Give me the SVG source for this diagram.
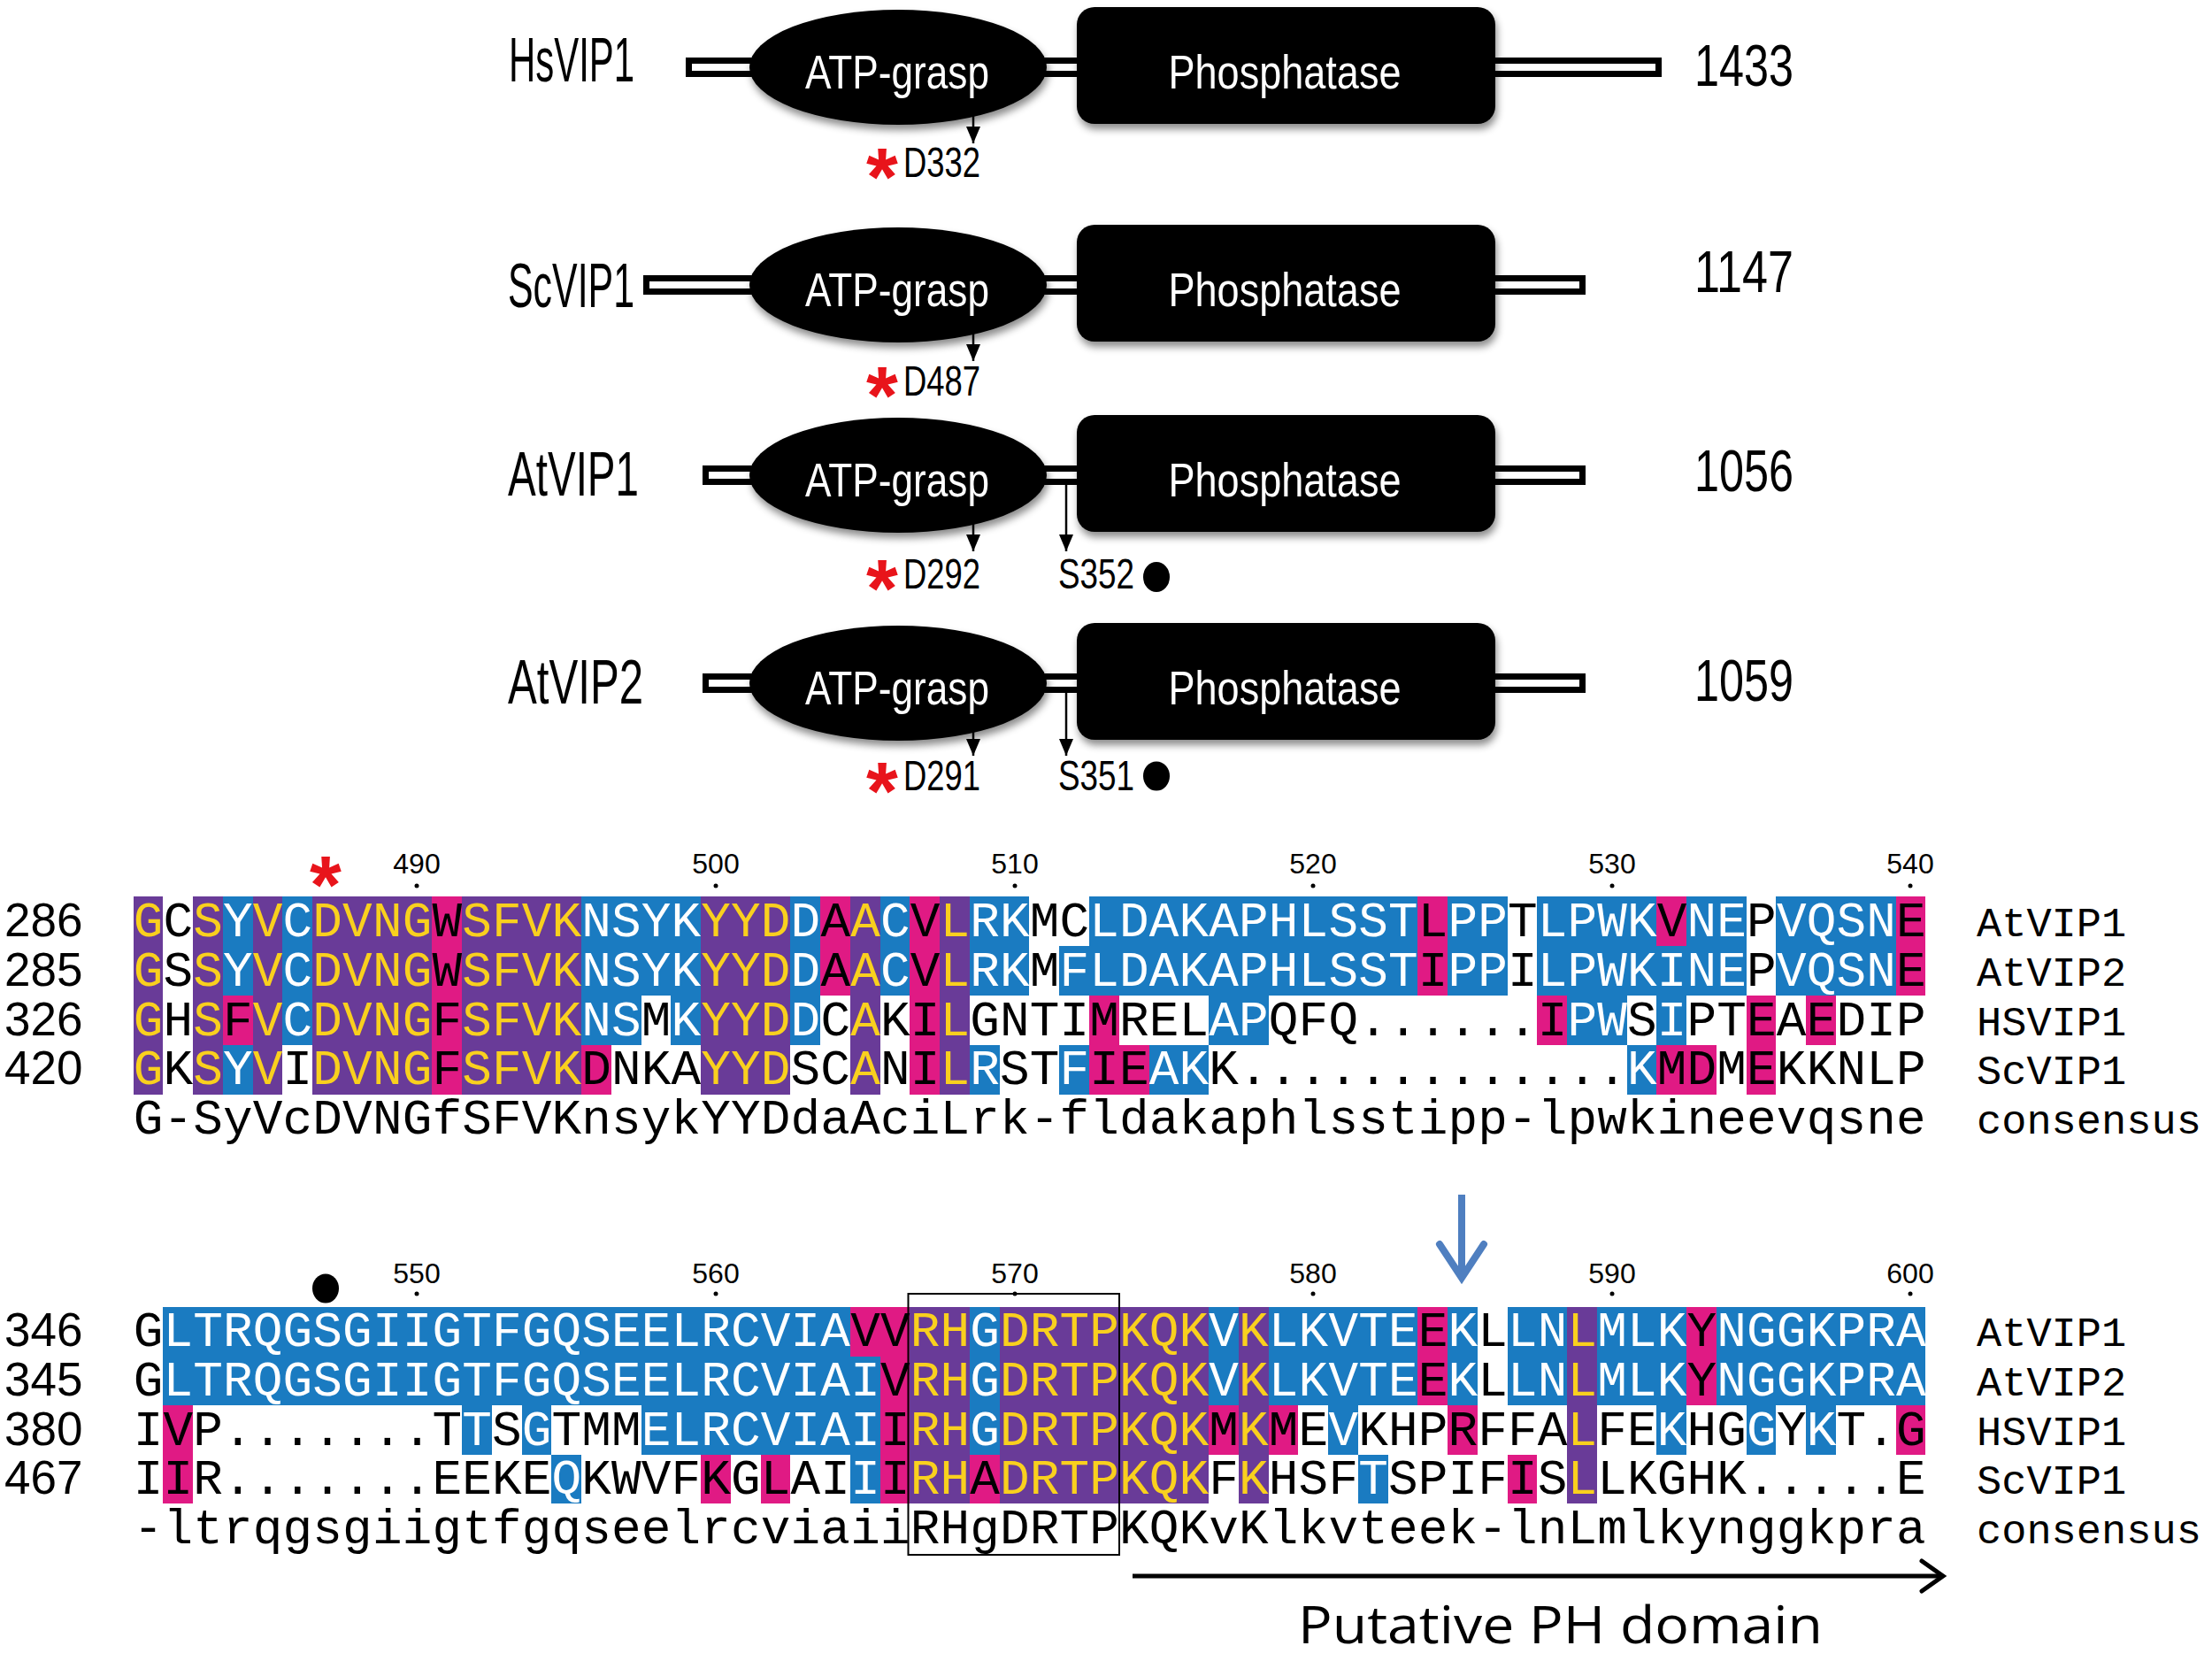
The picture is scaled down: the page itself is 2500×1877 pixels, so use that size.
<svg xmlns="http://www.w3.org/2000/svg" width="2500" height="1877" viewBox="0 0 2500 1877">
<defs>
<style>
.seq{font-family:"Liberation Mono","Courier New",monospace;font-size:56px;fill:#000;letter-spacing:0.16px}
.y{fill:#F9D01E}.w{fill:#fff}
.num{font-family:"Liberation Sans",Arial,sans-serif;font-size:53px;fill:#000}
.sp{font-family:"Liberation Mono","Courier New",monospace;font-size:47px;fill:#000}
.rul{font-family:"Liberation Sans",Arial,sans-serif;font-size:32px;text-anchor:middle;fill:#000}
.P{fill:#693B98}.B{fill:#1A7BC1}.M{fill:#E01A84}
.cond{font-family:"Liberation Sans Narrow","Liberation Sans",Arial,sans-serif}
.lab{font-size:70px;fill:#000}
.len{font-size:66px;fill:#000}
.dom{font-size:54px;fill:#fff;text-anchor:middle}
.site{font-size:49px;fill:#000}
.ast{font-family:"Liberation Sans",Arial,sans-serif;font-weight:bold;font-size:92px;fill:#E8141B;text-anchor:middle}
.bo{fill:#000}.bi{fill:#fff}
.shape{fill:#000;filter:url(#sh)}
.ptr{stroke:#000;stroke-width:2.5;fill:none;marker-end:url(#ah)}
</style>
<marker id="ah" viewBox="0 0 19 16" refX="19" refY="8" markerWidth="19" markerHeight="16" markerUnits="userSpaceOnUse" orient="auto">
<path d="M0,0 L19,8 L0,16 z" fill="#000"/>
</marker>
<filter id="sh" x="-10%" y="-10%" width="125%" height="140%">
<feDropShadow dx="2" dy="6" stdDeviation="4" flood-color="#000" flood-opacity="0.45"/>
</filter>
</defs>
<rect width="2500" height="1877" fill="#fff"/>

<!-- ===== Domain diagrams ===== -->
<g id="HsVIP1">
<rect class="bo" x="775" y="65" width="1103" height="22"/>
<rect class="bi" x="782" y="72" width="1089" height="8"/>
<ellipse class="shape" cx="1015" cy="76" rx="168" ry="65"/>
<rect class="shape" x="1217" y="8" width="473" height="132" rx="20"/>
<text class="cond dom" x="1014" y="100" textLength="208" lengthAdjust="spacingAndGlyphs">ATP-grasp</text>
<text class="cond dom" x="1452" y="100" textLength="263" lengthAdjust="spacingAndGlyphs">Phosphatase</text>
<text class="cond lab" x="575" y="92" textLength="142" lengthAdjust="spacingAndGlyphs">HsVIP1</text>
<text class="cond len" x="1915" y="97" textLength="112" lengthAdjust="spacingAndGlyphs">1433</text>
<path class="ptr" d="M1100,131 V162"/>
<text class="ast" x="997" y="232">*</text>
<text class="cond site" x="1021" y="200" textLength="87" lengthAdjust="spacingAndGlyphs">D332</text>
</g>

<g id="ScVIP1">
<rect class="bo" x="727" y="311" width="1065" height="22"/>
<rect class="bi" x="734" y="318" width="1051" height="8"/>
<ellipse class="shape" cx="1015" cy="322" rx="168" ry="65"/>
<rect class="shape" x="1217" y="254" width="473" height="132" rx="20"/>
<text class="cond dom" x="1014" y="346" textLength="208" lengthAdjust="spacingAndGlyphs">ATP-grasp</text>
<text class="cond dom" x="1452" y="346" textLength="263" lengthAdjust="spacingAndGlyphs">Phosphatase</text>
<text class="cond lab" x="574" y="347" textLength="143" lengthAdjust="spacingAndGlyphs">ScVIP1</text>
<text class="cond len" x="1915" y="330" textLength="112" lengthAdjust="spacingAndGlyphs">1147</text>
<path class="ptr" d="M1100,377 V408"/>
<text class="ast" x="997" y="479">*</text>
<text class="cond site" x="1021" y="447" textLength="87" lengthAdjust="spacingAndGlyphs">D487</text>
</g>

<g id="AtVIP1">
<rect class="bo" x="794" y="526" width="998" height="22"/>
<rect class="bi" x="801" y="533" width="984" height="8"/>
<ellipse class="shape" cx="1015" cy="537" rx="168" ry="65"/>
<rect class="shape" x="1217" y="469" width="473" height="132" rx="20"/>
<text class="cond dom" x="1014" y="561" textLength="208" lengthAdjust="spacingAndGlyphs">ATP-grasp</text>
<text class="cond dom" x="1452" y="561" textLength="263" lengthAdjust="spacingAndGlyphs">Phosphatase</text>
<text class="cond lab" x="574" y="560" textLength="148" lengthAdjust="spacingAndGlyphs">AtVIP1</text>
<text class="cond len" x="1915" y="555" textLength="112" lengthAdjust="spacingAndGlyphs">1056</text>
<path class="ptr" d="M1100,592 V623"/>
<path class="ptr" d="M1205,541 V623"/>
<text class="ast" x="997" y="697">*</text>
<text class="cond site" x="1021" y="665" textLength="87" lengthAdjust="spacingAndGlyphs">D292</text>
<text class="cond site" x="1196" y="665" textLength="86" lengthAdjust="spacingAndGlyphs">S352</text>
<ellipse cx="1307" cy="652" rx="15" ry="17" fill="#000"/>
</g>

<g id="AtVIP2">
<rect class="bo" x="794" y="761" width="998" height="22"/>
<rect class="bi" x="801" y="768" width="984" height="8"/>
<ellipse class="shape" cx="1015" cy="772" rx="168" ry="65"/>
<rect class="shape" x="1217" y="704" width="473" height="132" rx="20"/>
<text class="cond dom" x="1014" y="796" textLength="208" lengthAdjust="spacingAndGlyphs">ATP-grasp</text>
<text class="cond dom" x="1452" y="796" textLength="263" lengthAdjust="spacingAndGlyphs">Phosphatase</text>
<text class="cond lab" x="574" y="795" textLength="153" lengthAdjust="spacingAndGlyphs">AtVIP2</text>
<text class="cond len" x="1915" y="792" textLength="112" lengthAdjust="spacingAndGlyphs">1059</text>
<path class="ptr" d="M1100,827 V854"/>
<path class="ptr" d="M1205,776 V854"/>
<text class="ast" x="997" y="926">*</text>
<text class="cond site" x="1021" y="893" textLength="87" lengthAdjust="spacingAndGlyphs">D291</text>
<text class="cond site" x="1196" y="893" textLength="86" lengthAdjust="spacingAndGlyphs">S351</text>
<ellipse cx="1307" cy="877" rx="15" ry="16.5" fill="#000"/>
</g>

<!-- ===== Alignment block 1 ===== -->
<g id="block1">
<g transform="translate(150.7 1013.3) scale(33.76 55.85)" shape-rendering="crispEdges">
<g class="P">
<rect x="0" y="0" width="1" height="4"/><rect x="2" y="0" width="1" height="4"/><rect x="4" y="0" width="1" height="4"/>
<rect x="6" y="0" width="4" height="4"/><rect x="11" y="0" width="4" height="4"/><rect x="19" y="0" width="3" height="4"/>
<rect x="24" y="0" width="1" height="4"/><rect x="27" y="0" width="1" height="4"/>
</g>
<g class="B">
<rect x="3" y="0" width="1" height="1"/><rect x="5" y="0" width="1" height="1"/><rect x="15" y="0" width="4" height="1"/><rect x="22" y="0" width="1" height="1"/><rect x="25" y="0" width="1" height="1"/><rect x="28" y="0" width="2" height="1"/><rect x="32" y="0" width="11" height="1"/><rect x="44" y="0" width="2" height="1"/><rect x="47" y="0" width="4" height="1"/><rect x="52" y="0" width="2" height="1"/><rect x="55" y="0" width="4" height="1"/>
<rect x="3" y="1" width="1" height="1"/><rect x="5" y="1" width="1" height="1"/><rect x="15" y="1" width="4" height="1"/><rect x="22" y="1" width="1" height="1"/><rect x="25" y="1" width="1" height="1"/><rect x="28" y="1" width="2" height="1"/><rect x="31" y="1" width="12" height="1"/><rect x="44" y="1" width="2" height="1"/><rect x="47" y="1" width="7" height="1"/><rect x="55" y="1" width="4" height="1"/>
<rect x="5" y="2" width="1" height="1"/><rect x="15" y="2" width="2" height="1"/><rect x="18" y="2" width="1" height="1"/><rect x="22" y="2" width="1" height="1"/><rect x="36" y="2" width="2" height="1"/><rect x="48" y="2" width="2" height="1"/><rect x="51" y="2" width="1" height="1"/>
<rect x="3" y="3" width="1" height="1"/><rect x="28" y="3" width="1" height="1"/><rect x="31" y="3" width="1" height="1"/><rect x="34" y="3" width="2" height="1"/><rect x="50" y="3" width="1" height="1"/>
</g>
<g class="M">
<rect x="10" y="0" width="1" height="1"/><rect x="23" y="0" width="1" height="1"/><rect x="26" y="0" width="1" height="1"/><rect x="43" y="0" width="1" height="1"/><rect x="51" y="0" width="1" height="1"/><rect x="59" y="0" width="1" height="1"/>
<rect x="10" y="1" width="1" height="1"/><rect x="23" y="1" width="1" height="1"/><rect x="26" y="1" width="1" height="1"/><rect x="43" y="1" width="1" height="1"/><rect x="59" y="1" width="1" height="1"/>
<rect x="3" y="2" width="1" height="1"/><rect x="10" y="2" width="1" height="1"/><rect x="26" y="2" width="1" height="1"/><rect x="32" y="2" width="1" height="1"/><rect x="47" y="2" width="1" height="1"/><rect x="54" y="2" width="1" height="1"/><rect x="56" y="2" width="1" height="1"/>
<rect x="10" y="3" width="1" height="1"/><rect x="15" y="3" width="1" height="1"/><rect x="26" y="3" width="1" height="1"/><rect x="32" y="3" width="2" height="1"/><rect x="51" y="3" width="2" height="1"/><rect x="54" y="3" width="1" height="1"/>
</g>
</g>
<text class="ast" x="368" y="1032">*</text>
<g class="rul">
<text x="471" y="987">490</text><text x="809" y="987">500</text><text x="1147" y="987">510</text><text x="1484" y="987">520</text><text x="1822" y="987">530</text><text x="2159" y="987">540</text>
</g>
<g fill="#000">
<circle cx="471" cy="1001" r="2.5"/><circle cx="809" cy="1001" r="2.5"/><circle cx="1147" cy="1001" r="2.5"/><circle cx="1484" cy="1001" r="2.5"/><circle cx="1822" cy="1001" r="2.5"/><circle cx="2159" cy="1001" r="2.5"/>
</g>
<g class="num">
<text x="5" y="1058">286</text><text x="5" y="1114">285</text><text x="5" y="1170">326</text><text x="5" y="1225">420</text>
</g>
<text class="seq" x="150.78" y="1058"><tspan class="y">G</tspan>C<tspan class="y">S</tspan><tspan class="w">Y</tspan><tspan class="y">V</tspan><tspan class="w">C</tspan><tspan class="y">DVNG</tspan>W<tspan class="y">SFVK</tspan><tspan class="w">NSYK</tspan><tspan class="y">YYD</tspan><tspan class="w">D</tspan>A<tspan class="y">A</tspan><tspan class="w">C</tspan>V<tspan class="y">L</tspan><tspan class="w">RK</tspan>MC<tspan class="w">LDAKAPHLSST</tspan>L<tspan class="w">PP</tspan>T<tspan class="w">LPWK</tspan>V<tspan class="w">NE</tspan>P<tspan class="w">VQSN</tspan>E</text>
<text class="seq" x="150.78" y="1114"><tspan class="y">G</tspan>S<tspan class="y">S</tspan><tspan class="w">Y</tspan><tspan class="y">V</tspan><tspan class="w">C</tspan><tspan class="y">DVNG</tspan>W<tspan class="y">SFVK</tspan><tspan class="w">NSYK</tspan><tspan class="y">YYD</tspan><tspan class="w">D</tspan>A<tspan class="y">A</tspan><tspan class="w">C</tspan>V<tspan class="y">L</tspan><tspan class="w">RK</tspan>M<tspan class="w">FLDAKAPHLSST</tspan>I<tspan class="w">PP</tspan>I<tspan class="w">LPWKINE</tspan>P<tspan class="w">VQSN</tspan>E</text>
<text class="seq" x="150.78" y="1170"><tspan class="y">G</tspan>H<tspan class="y">S</tspan>F<tspan class="y">V</tspan><tspan class="w">C</tspan><tspan class="y">DVNG</tspan>F<tspan class="y">SFVK</tspan><tspan class="w">NS</tspan>M<tspan class="w">K</tspan><tspan class="y">YYD</tspan><tspan class="w">D</tspan>C<tspan class="y">A</tspan>KI<tspan class="y">L</tspan>GNTIMREL<tspan class="w">AP</tspan>QFQ......I<tspan class="w">PW</tspan>S<tspan class="w">I</tspan>PTEAEDIP</text>
<text class="seq" x="150.78" y="1225"><tspan class="y">G</tspan>K<tspan class="y">S</tspan><tspan class="w">Y</tspan><tspan class="y">V</tspan>I<tspan class="y">DVNG</tspan>F<tspan class="y">SFVK</tspan>DNKA<tspan class="y">YYD</tspan>SC<tspan class="y">A</tspan>NI<tspan class="y">L</tspan><tspan class="w">R</tspan>ST<tspan class="w">F</tspan>IE<tspan class="w">AK</tspan>K.............<tspan class="w">K</tspan>MDMEKKNLP</text>
<text class="seq" x="150.78" y="1281">G-SyVcDVNGfSFVKnsykYYDdaAciLrk-fldakaphlsstipp-lpwkineevqsne</text>
<g class="sp">
<text x="2234" y="1058">AtVIP1</text><text x="2234" y="1114">AtVIP2</text><text x="2234" y="1170">HSVIP1</text><text x="2234" y="1225">ScVIP1</text><text x="2234" y="1281">consensus</text>
</g>
</g>

<!-- ===== Alignment block 2 ===== -->
<g id="block2">
<g transform="translate(150.7 1477) scale(33.76 55.5)" shape-rendering="crispEdges">
<g class="P">
<rect x="26" y="0" width="2" height="4"/><rect x="29" y="0" width="7" height="4"/><rect x="37" y="0" width="1" height="4"/><rect x="48" y="0" width="1" height="4"/>
</g>
<g class="B">
<rect x="1" y="0" width="23" height="1"/><rect x="28" y="0" width="1" height="1"/><rect x="36" y="0" width="1" height="1"/><rect x="38" y="0" width="5" height="1"/><rect x="44" y="0" width="1" height="1"/><rect x="46" y="0" width="2" height="1"/><rect x="49" y="0" width="3" height="1"/><rect x="53" y="0" width="7" height="1"/>
<rect x="1" y="1" width="24" height="1"/><rect x="28" y="1" width="1" height="1"/><rect x="36" y="1" width="1" height="1"/><rect x="38" y="1" width="5" height="1"/><rect x="44" y="1" width="1" height="1"/><rect x="46" y="1" width="2" height="1"/><rect x="49" y="1" width="3" height="1"/><rect x="53" y="1" width="7" height="1"/>
<rect x="11" y="2" width="1" height="1"/><rect x="13" y="2" width="1" height="1"/><rect x="17" y="2" width="8" height="1"/><rect x="28" y="2" width="1" height="1"/><rect x="40" y="2" width="1" height="1"/><rect x="51" y="2" width="1" height="1"/><rect x="54" y="2" width="1" height="1"/><rect x="56" y="2" width="1" height="1"/>
<rect x="14" y="3" width="1" height="1"/><rect x="24" y="3" width="1" height="1"/><rect x="41" y="3" width="1" height="1"/>
</g>
<g class="M">
<rect x="24" y="0" width="2" height="1"/><rect x="43" y="0" width="1" height="1"/><rect x="52" y="0" width="1" height="1"/>
<rect x="25" y="1" width="1" height="1"/><rect x="43" y="1" width="1" height="1"/><rect x="52" y="1" width="1" height="1"/>
<rect x="1" y="2" width="1" height="1"/><rect x="25" y="2" width="1" height="1"/><rect x="36" y="2" width="1" height="1"/><rect x="38" y="2" width="1" height="1"/><rect x="44" y="2" width="1" height="1"/><rect x="59" y="2" width="1" height="1"/>
<rect x="1" y="3" width="1" height="1"/><rect x="19" y="3" width="1" height="1"/><rect x="21" y="3" width="1" height="1"/><rect x="25" y="3" width="1" height="1"/><rect x="28" y="3" width="1" height="1"/><rect x="46" y="3" width="1" height="1"/>
</g>
</g>
<ellipse cx="368" cy="1456" rx="15" ry="16.5" fill="#000"/>
<g class="rul">
<text x="471" y="1450">550</text><text x="809" y="1450">560</text><text x="1147" y="1450">570</text><text x="1484" y="1450">580</text><text x="1822" y="1450">590</text><text x="2159" y="1450">600</text>
</g>
<g fill="#000">
<circle cx="471" cy="1462" r="2.5"/><circle cx="809" cy="1462" r="2.5"/><circle cx="1147" cy="1462" r="2.5"/><circle cx="1484" cy="1462" r="2.5"/><circle cx="1822" cy="1462" r="2.5"/><circle cx="2159" cy="1462" r="2.5"/>
</g>
<g class="num">
<text x="5" y="1521">346</text><text x="5" y="1577">345</text><text x="5" y="1633">380</text><text x="5" y="1688">467</text>
</g>
<text class="seq" x="150.78" y="1521">G<tspan class="w">LTRQGSGIIGTFGQSEELRCVIA</tspan>VV<tspan class="y">RH</tspan><tspan class="w">G</tspan><tspan class="y">DRTPKQK</tspan><tspan class="w">V</tspan><tspan class="y">K</tspan><tspan class="w">LKVTE</tspan>E<tspan class="w">K</tspan>L<tspan class="w">LN</tspan><tspan class="y">L</tspan><tspan class="w">MLK</tspan>Y<tspan class="w">NGGKPRA</tspan></text>
<text class="seq" x="150.78" y="1577">G<tspan class="w">LTRQGSGIIGTFGQSEELRCVIAI</tspan>V<tspan class="y">RH</tspan><tspan class="w">G</tspan><tspan class="y">DRTPKQK</tspan><tspan class="w">V</tspan><tspan class="y">K</tspan><tspan class="w">LKVTE</tspan>E<tspan class="w">K</tspan>L<tspan class="w">LN</tspan><tspan class="y">L</tspan><tspan class="w">MLK</tspan>Y<tspan class="w">NGGKPRA</tspan></text>
<text class="seq" x="150.78" y="1633">IVP.......T<tspan class="w">T</tspan>S<tspan class="w">G</tspan>TMM<tspan class="w">ELRCVIAI</tspan>I<tspan class="y">RH</tspan><tspan class="w">G</tspan><tspan class="y">DRTPKQK</tspan>M<tspan class="y">K</tspan>ME<tspan class="w">V</tspan>KHPRFFA<tspan class="y">L</tspan>FE<tspan class="w">K</tspan>HG<tspan class="w">G</tspan>Y<tspan class="w">K</tspan>T.G</text>
<text class="seq" x="150.78" y="1688">IIR.......EEKE<tspan class="w">Q</tspan>KWVFKGLAI<tspan class="w">I</tspan>I<tspan class="y">RH</tspan>A<tspan class="y">DRTPKQK</tspan>F<tspan class="y">K</tspan>HSF<tspan class="w">T</tspan>SPIFIS<tspan class="y">L</tspan>LKGHK.....E</text>
<text class="seq" x="150.78" y="1744">-ltrqgsgiigtfgqseelrcviaiiRHgDRTPKQKvKlkvteek-lnLmlkynggkpra</text>
<g class="sp">
<text x="2234" y="1521">AtVIP1</text><text x="2234" y="1577">AtVIP2</text><text x="2234" y="1633">HSVIP1</text><text x="2234" y="1688">ScVIP1</text><text x="2234" y="1744">consensus</text>
</g>
<rect x="1026.5" y="1462" width="238.5" height="295" fill="none" stroke="#000" stroke-width="2"/>
</g>

<!-- ===== Connectors / annotations ===== -->
<g id="connectors">
<path d="M1652,1350 V1440" stroke="#4F7FC0" stroke-width="8" fill="none"/>
<polyline points="1627,1406 1652,1444 1677,1406" stroke="#4F7FC0" stroke-width="8" fill="none" stroke-linejoin="miter" stroke-linecap="round"/>
<path d="M1280,1781 H2194" stroke="#000" stroke-width="5" fill="none"/>
<polyline points="2172,1764 2196,1781 2172,1798" stroke="#000" stroke-width="5" fill="none" stroke-linecap="round"/>
<text x="1467" y="1857" font-family="Open Sans, Liberation Sans, sans-serif" font-size="58" fill="#000" textLength="593" lengthAdjust="spacingAndGlyphs">Putative PH domain</text>
</g>
</svg>
